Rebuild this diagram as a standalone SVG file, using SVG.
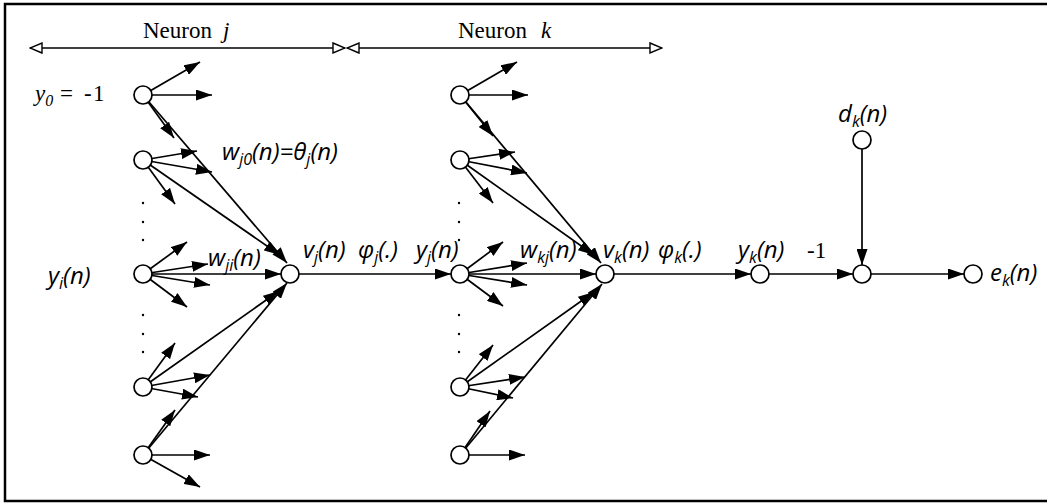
<svg xmlns="http://www.w3.org/2000/svg" width="1047" height="504" viewBox="0 0 1047 504">
<style>
.c{stroke:#000;stroke-width:1.7;fill:none}
.a{marker-end:url(#ah)}
.n{fill:#fff;stroke:#000;stroke-width:1.7}
.s{stroke:#000;stroke-width:1.4;fill:none;marker-start:url(#oh);marker-end:url(#oh)}
.t{font-family:"Liberation Serif",serif;font-size:23px;fill:#000}
.m{font-family:"Open Sans","Noto Sans",sans-serif;font-style:italic;font-size:24px;fill:#000}
.sb{font-size:16px}
</style>
<defs>
<marker id="ah" viewBox="0 0 16 11" refX="16" refY="5.5" markerWidth="16" markerHeight="11" markerUnits="userSpaceOnUse" orient="auto"><path d="M0,0 L16,5.5 L0,11 z" fill="#000"/></marker>
<marker id="oh" viewBox="0 0 14 12" refX="13" refY="6" markerWidth="14" markerHeight="12" markerUnits="userSpaceOnUse" orient="auto-start-reverse"><path d="M1,1 L13,6 L1,11 z" fill="#fff" stroke="#000" stroke-width="1.4"/></marker>
</defs>
<path d="M1060,4 H5 V501 H1060" fill="none" stroke="#000" stroke-width="2.5"/>
<g id="spans">
<line class="s" x1="30" y1="48" x2="345" y2="48"/>
<line class="s" x1="347" y1="48" x2="662" y2="48"/>
<text class="t" x="143" y="38">Neuron<tspan x="223" font-style="italic">j</tspan></text>
<text class="t" x="458" y="38">Neuron<tspan x="541" font-style="italic">k</tspan></text>
</g>
<g id="connectors">
<line class="c a" x1="143" y1="95" x2="200" y2="62"/>
<line class="c a" x1="143" y1="95" x2="212" y2="95"/>
<line class="c a" x1="143" y1="95" x2="174" y2="138"/>
<line class="c a" x1="143" y1="95" x2="287" y2="263"/>
<line class="c a" x1="143" y1="160" x2="197" y2="151"/>
<line class="c a" x1="143" y1="160" x2="212" y2="172"/>
<line class="c a" x1="143" y1="160" x2="175" y2="204"/>
<line class="c a" x1="143" y1="160" x2="280" y2="255"/>
<line class="c a" x1="143" y1="274" x2="187" y2="242"/>
<line class="c a" x1="143" y1="274" x2="208" y2="264"/>
<line class="c a" x1="143" y1="274" x2="281" y2="274"/>
<line class="c a" x1="143" y1="274" x2="210" y2="285"/>
<line class="c a" x1="143" y1="274" x2="187" y2="307"/>
<line class="c a" x1="143" y1="387" x2="175" y2="343"/>
<line class="c a" x1="143" y1="387" x2="210" y2="375"/>
<line class="c a" x1="143" y1="387" x2="198" y2="397"/>
<line class="c a" x1="143" y1="387" x2="279" y2="291"/>
<line class="c a" x1="143" y1="455" x2="175" y2="410"/>
<line class="c a" x1="143" y1="455" x2="210" y2="455"/>
<line class="c a" x1="143" y1="455" x2="200" y2="487"/>
<line class="c a" x1="143" y1="455" x2="287" y2="283"/>
<line class="c a" x1="290" y1="274" x2="451" y2="274"/>
<line class="c a" x1="460" y1="95" x2="517" y2="62"/>
<line class="c a" x1="460" y1="95" x2="528" y2="95"/>
<line class="c a" x1="460" y1="95" x2="493" y2="136"/>
<line class="c a" x1="460" y1="95" x2="601" y2="263"/>
<line class="c a" x1="460" y1="160" x2="515" y2="152"/>
<line class="c a" x1="460" y1="160" x2="527" y2="173"/>
<line class="c a" x1="460" y1="160" x2="493" y2="203"/>
<line class="c a" x1="460" y1="160" x2="594" y2="255"/>
<line class="c a" x1="460" y1="274" x2="503" y2="242"/>
<line class="c a" x1="460" y1="274" x2="527" y2="263"/>
<line class="c a" x1="460" y1="274" x2="596" y2="274"/>
<line class="c a" x1="460" y1="274" x2="527" y2="285"/>
<line class="c a" x1="460" y1="274" x2="503" y2="306"/>
<line class="c a" x1="460" y1="387" x2="493" y2="345"/>
<line class="c a" x1="460" y1="387" x2="525" y2="377"/>
<line class="c a" x1="460" y1="387" x2="513" y2="398"/>
<line class="c a" x1="460" y1="387" x2="594" y2="292"/>
<line class="c a" x1="460" y1="455" x2="490" y2="411"/>
<line class="c a" x1="460" y1="455" x2="525" y2="455"/>
<line class="c a" x1="460" y1="455" x2="602" y2="284"/>
<line class="c a" x1="605" y1="274" x2="751" y2="274"/>
<line class="c a" x1="760" y1="274" x2="853" y2="274"/>
<line class="c a" x1="862" y1="140" x2="862" y2="265"/>
<line class="c a" x1="862" y1="274" x2="964" y2="274"/>
</g>
<g id="dots" fill="#000">
<circle cx="143" cy="203" r="1.2"/><circle cx="143" cy="222" r="1.2"/><circle cx="143" cy="240" r="1.2"/>
<circle cx="143" cy="315" r="1.2"/><circle cx="143" cy="334" r="1.2"/><circle cx="143" cy="352" r="1.2"/>
<circle cx="459" cy="203" r="1.2"/><circle cx="459" cy="222" r="1.2"/><circle cx="459" cy="240" r="1.2"/>
<circle cx="459" cy="315" r="1.2"/><circle cx="459" cy="334" r="1.2"/><circle cx="459" cy="352" r="1.2"/>
</g>
<g id="node-y0"><circle class="n" cx="143" cy="95" r="9"/><text class="t" x="35" y="101" font-style="italic">y<tspan class="sb" dy="5">0</tspan><tspan x="60" dy="-5" font-style="normal">=</tspan><tspan x="84" font-style="normal">-</tspan><tspan x="93" font-style="normal">1</tspan></text></g>
<g id="node-j2"><circle class="n" cx="143" cy="160" r="9"/></g>
<g id="node-yi"><circle class="n" cx="143" cy="274" r="9"/><text class="m" x="48" y="284">y<tspan class="sb" dy="5">i</tspan><tspan dy="-5">(n)</tspan></text></g>
<g id="node-j4"><circle class="n" cx="143" cy="387" r="9"/></g>
<g id="node-j5"><circle class="n" cx="143" cy="455" r="9"/></g>
<g id="node-vj"><circle class="n" cx="290" cy="274" r="9"/><text class="m" x="303" y="258">v<tspan class="sb" dy="5">j</tspan><tspan dy="-5">(n)</tspan></text></g>
<g id="label-wj0"><text class="m" x="222" y="160">w<tspan class="sb" dy="5">j0</tspan><tspan dy="-5">(n)=θ</tspan><tspan class="sb" dy="5">j</tspan><tspan dy="-5">(n)</tspan></text></g>
<g id="label-wji"><text class="m" x="208" y="266">w<tspan class="sb" dy="5">ji</tspan><tspan dy="-5">(n)</tspan></text></g>
<g id="label-phij"><text class="m" x="358" y="258">φ<tspan class="sb" dy="5">j</tspan><tspan dy="-5">(.)</tspan></text></g>
<g id="node-k0"><circle class="n" cx="460" cy="95" r="9"/></g>
<g id="node-k2"><circle class="n" cx="460" cy="160" r="9"/></g>
<g id="node-yj"><circle class="n" cx="460" cy="274" r="9"/><text class="m" x="416" y="258">y<tspan class="sb" dy="5">j</tspan><tspan dy="-5">(n)</tspan></text></g>
<g id="node-k4"><circle class="n" cx="460" cy="387" r="9"/></g>
<g id="node-k5"><circle class="n" cx="460" cy="455" r="9"/></g>
<g id="label-wkj"><text class="m" x="520" y="258">w<tspan class="sb" dy="5">kj</tspan><tspan dy="-5">(n)</tspan></text></g>
<g id="node-vk"><circle class="n" cx="605" cy="274" r="9"/><text class="m" x="603" y="258">v<tspan class="sb" dy="5">k</tspan><tspan dy="-5">(n)</tspan></text></g>
<g id="label-phik"><text class="m" x="658" y="258">φ<tspan class="sb" dy="5">k</tspan><tspan dy="-5">(.)</tspan></text></g>
<g id="node-yk"><circle class="n" cx="760" cy="274" r="9"/><text class="m" x="738" y="258">y<tspan class="sb" dy="5">k</tspan><tspan dy="-5">(n)</tspan></text></g>
<g id="label-m1"><text class="t" x="807" y="258">-1</text></g>
<g id="node-sum"><circle class="n" cx="862" cy="274" r="9"/></g>
<g id="node-dk"><circle class="n" cx="862" cy="140" r="9"/><text class="m" x="838" y="122">d<tspan class="sb" dy="5">k</tspan><tspan dy="-5">(n)</tspan></text></g>
<g id="node-ek"><circle class="n" cx="973" cy="274" r="9"/><text class="m" x="990" y="281">e<tspan class="sb" dy="5">k</tspan><tspan dy="-5">(n)</tspan></text></g>
</svg>
